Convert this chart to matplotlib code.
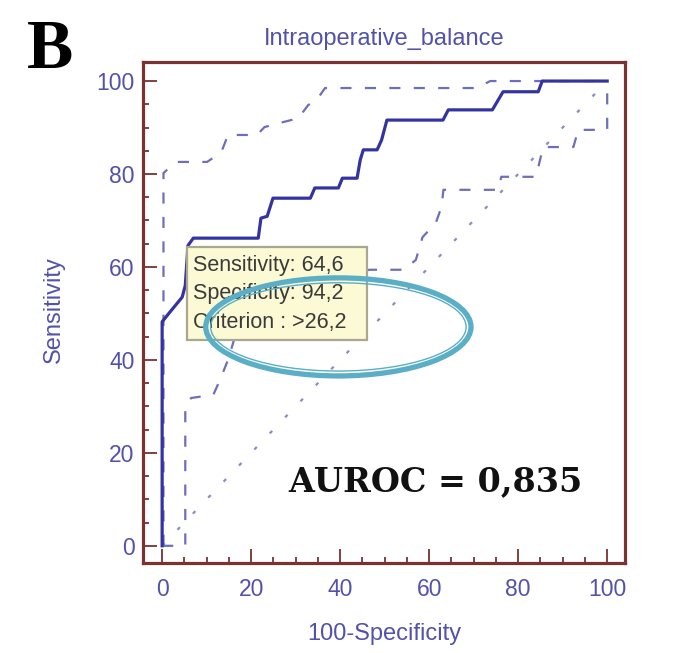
import matplotlib
matplotlib.use("Agg")
import matplotlib.pyplot as plt
from matplotlib.patches import Ellipse, Rectangle

# ROC curve (100-Specificity vs Sensitivity)
roc_fpr = [0, 0, 1.5, 4.5, 5.2, 5.8, 7.0, 21.6, 22.2, 23.6, 24.9, 33.3, 34.3, 39.6, 40.5,
           43.8, 44.5, 45.2, 48.3, 49.3, 50.5, 63.1, 64.3, 74.2, 76.6, 84.5, 85.4, 100]
roc_tpr = [0, 48.2, 50, 53.5, 56, 64.6, 66.2, 66.2, 70.5, 70.9, 74.8, 74.8, 77, 77, 79.1,
           79.1, 83, 85.2, 85.2, 87.3, 91.6, 91.6, 93.8, 93.8, 97.7, 97.7, 100, 100]

# upper confidence bound
ucl_fpr = [0.3, 0.3, 1.8, 3.4, 10.1, 11.5, 13.5, 14.8, 21.3, 23.0, 26.5, 30.6, 32.8, 35.0,
           36.6, 70.8, 73.7, 100]
ucl_tpr = [0, 80.2, 81.5, 82.6, 82.6, 83.5, 85.2, 88.4, 88.4, 90.1, 91.0, 92.0, 94.8, 96.3,
           98.5, 98.5, 100, 100]

# lower confidence bound
lcl_fpr = [0, 5.2, 5.2, 6.5, 11.5, 13.0, 14.8, 17.0, 22.0, 32.0, 46.7, 54.2, 57.0, 58.5,
           61.5, 62.8, 63.2, 75.5, 76.2, 84.0, 85.6, 92.4, 93.5, 100, 100]
lcl_tpr = [0, 0, 29.7, 31.8, 32.5, 35.7, 40.0, 47.0, 54.0, 57.5, 59.4, 59.4, 61.5, 66.4,
           69.5, 73.0, 76.6, 76.6, 79.4, 79.4, 85.8, 85.8, 89.5, 89.5, 100]

diag = [0, 100]
ticks = [0, 20, 40, 60, 80, 100]

tooltip_lines = ["Sensitivity: 64,6", "Specificity: 94,2", "Criterion : >26,2"]
auroc_text = "AUROC = 0,835"

frame_col = "#7a3232"
label_col = "#5252aa"

fig = plt.figure(figsize=(6.85, 6.53), dpi=100)
fig.patch.set_facecolor("white")
ax = fig.add_axes([143 / 685, 90 / 653, 482 / 685, 501 / 653])

ax.plot(diag, diag, color="#8c8cc4", lw=1.6, dashes=(1.6, 8.4), zorder=2)
ax.plot(ucl_fpr, ucl_tpr, color="#6e6eba", lw=1.6, dashes=(5, 6), zorder=2)
ax.plot(lcl_fpr, lcl_tpr, color="#6e6eba", lw=1.6, dashes=(5, 6), zorder=2)
ax.plot(roc_fpr, roc_tpr, color="#3434a0", lw=2.3, zorder=3)

ax.set_xlim(-4.3, 104.0)
ax.set_ylim(-3.7, 104.1)
ax.set_xticks(ticks)
ax.set_yticks(ticks)
ax.set_xticks(range(0, 101, 5), minor=True)
ax.set_yticks(range(0, 101, 5), minor=True)

for s in ax.spines.values():
    s.set_color(frame_col)
    s.set_linewidth(2.3)

ax.tick_params(which="both", direction="in", color=frame_col, width=1.3)
ax.tick_params(which="major", length=10)
ax.tick_params(which="minor", length=4.5)
ax.tick_params(axis="x", which="major", pad=11, labelsize=16.5, labelcolor=label_col)
ax.tick_params(axis="y", which="major", pad=6, labelsize=16.5, labelcolor=label_col)
for lab in ax.get_xticklabels() + ax.get_yticklabels():
    lab.set_family("Liberation Sans")

ax.set_title("Intraoperative_balance", color=label_col, fontsize=17, pad=12,
             family="Liberation Sans")
ax.set_xlabel("100-Specificity", color=label_col, fontsize=17, family="Liberation Sans")
ax.set_ylabel("Sensitivity", color=label_col, fontsize=17, family="Liberation Sans")
ax.xaxis.set_label_coords(0.5, -0.12)
ax.yaxis.set_label_coords(-0.162, 0.505)

# tooltip box at the chosen cut-off
ax.add_patch(Rectangle((5.6, 44.3), 40.5, 20.0, facecolor="#fcfad4", edgecolor="#a8a890",
                       lw=1.6, zorder=5))
for i, line in enumerate(tooltip_lines):
    ax.text(7.0, 60.4 - i * 6.2, line, fontsize=15.5, color="#3a3a3a", va="center",
            ha="left", family="Liberation Sans", zorder=6)

# highlighted ellipse (double line)
ax.add_patch(Ellipse((39.6, 47.1), 59.6, 21.1, fill=False, edgecolor="#5aaec6",
                     lw=3.8, zorder=7))
ax.add_patch(Ellipse((39.6, 47.1), 57.4, 19.0, fill=False, edgecolor="#5aaec6",
                     lw=1.0, zorder=7))

ax.text(61.3, 13.8, auroc_text, fontsize=24, fontweight="bold", family="DejaVu Serif",
        ha="center", va="center", color="#111111", zorder=6)

fig.text(27 / 685, (653 - 68) / 653, "B", fontsize=50, fontweight="bold",
         family="Liberation Serif", ha="left", va="baseline", color="black")

fig.savefig("out.png", dpi=100)
